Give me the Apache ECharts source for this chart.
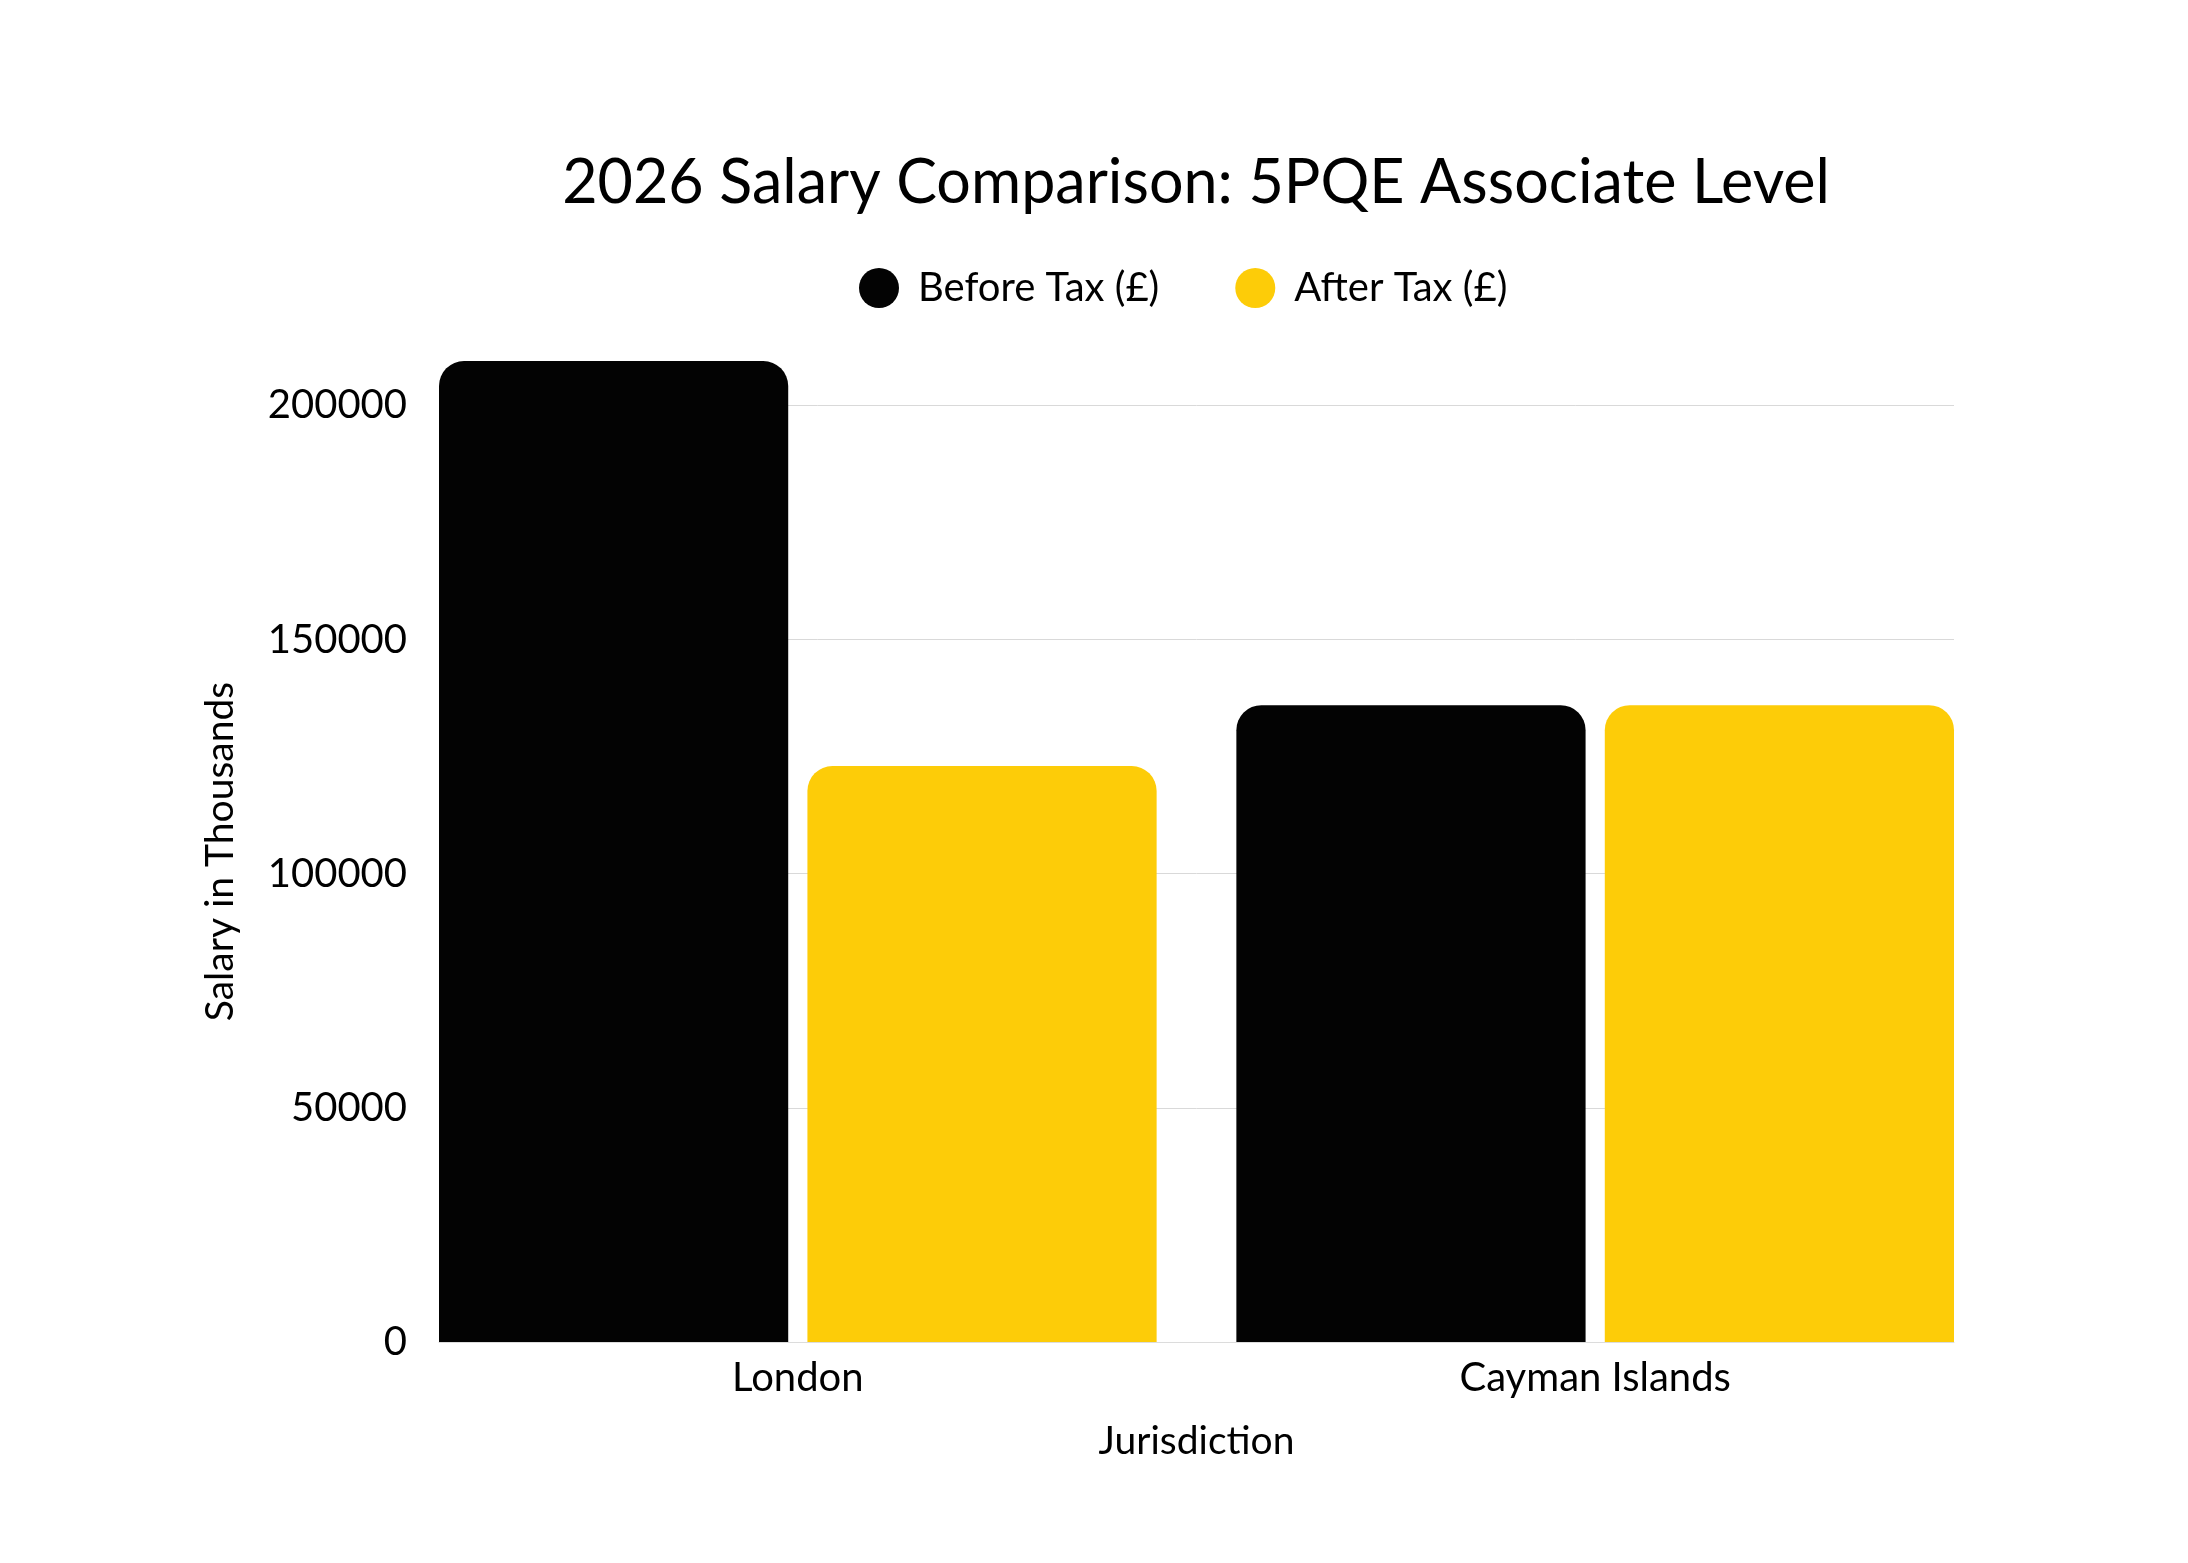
<!DOCTYPE html>
<html>
<head>
<meta charset="utf-8">
<script src="https://cdn.jsdelivr.net/npm/echarts@6/dist/echarts.min.js"></script>
<style>
  html, body { margin: 0; padding: 0; background: #fff; }
  #chart { width: 2188px; height: 1563px; }
</style>
</head>
<body>
<div id="chart"></div>
<script>
var jurisdictions = ['London', 'Cayman Islands'];
var beforeTax = [209500, 136000];
var afterTax = [123000, 136000];
var yTicks = [0, 50000, 100000, 150000, 200000];

var FONT = 'Lato';
var yMax = Math.max.apply(null, beforeTax.concat(afterTax));
var tickTop = yTicks[yTicks.length - 1];

// plot frame (px)
var plotLeft = 439, plotRight = 1954, plotTop = 361, plotBottom = 1342;
var W = 2188, H = 1563;
// grid for the gridlines starts at the top tick
var gridTop0 = plotTop + (plotBottom - plotTop) * (1 - tickTop / yMax);
// bar grid is wider so the outer bars sit flush with the plot edges
var catW = (plotRight - plotLeft) / (2 - 0.1);
var barLeft = plotLeft - catW * 0.05;
var barRight = plotRight + catW * 0.05;

var chart = echarts.init(document.getElementById('chart'));

var option = {
    backgroundColor: '#ffffff',
    textStyle: { fontFamily: FONT },
    title: {
        text: '2026 Salary Comparison: 5PQE Associate Level',
        left: 1191,
        top: 148,
        textAlign: 'center',
        textStyle: { fontFamily: FONT, fontSize: 61, fontWeight: 'normal', color: '#000' }
    },
    legend: {
        left: 859,
        top: 268,
        padding: 0,
        itemWidth: 68,
        itemHeight: 40,
        itemGap: 76,
        icon: 'circle',
        textStyle: { fontFamily: FONT, fontSize: 40, color: '#000' },
        data: ['Before Tax (£)', 'After Tax (£)']
    },
    grid: [
        { left: plotLeft, right: W - plotRight, top: gridTop0, bottom: H - plotBottom },
        { left: barLeft, right: W - barRight, top: plotTop, bottom: H - plotBottom }
    ],
    xAxis: [
        {
            gridIndex: 0,
            type: 'category',
            data: jurisdictions,
            axisLine: { show: true, lineStyle: { color: '#dcdcdc', width: 1 } },
            axisTick: { show: false },
            axisLabel: { show: false }
        },
        {
            gridIndex: 1,
            type: 'category',
            data: jurisdictions,
            axisLine: { show: false },
            axisTick: { show: false },
            axisLabel: { margin: 16, fontFamily: FONT, fontSize: 40, color: '#000' },
            name: 'Jurisdiction',
            nameLocation: 'middle',
            nameGap: 80,
            nameTextStyle: { fontFamily: FONT, fontSize: 39, color: '#000' }
        }
    ],
    yAxis: [
        {
            gridIndex: 0,
            type: 'value',
            min: yTicks[0],
            max: tickTop,
            interval: yTicks[1] - yTicks[0],
            axisLine: { show: false },
            axisTick: { show: false },
            axisLabel: {
                margin: 32, fontFamily: FONT, fontSize: 40, color: '#000',
                formatter: function (v) { return String(v); }
            },
            splitLine: { lineStyle: { color: '#d9d9d9', width: 1 } }
        },
        {
            gridIndex: 1,
            type: 'value',
            min: 0,
            max: yMax,
            axisLine: { show: false },
            axisTick: { show: false },
            axisLabel: { show: false },
            splitLine: { show: false },
            name: 'Salary in Thousands',
            nameLocation: 'middle',
            nameGap: 159,
            nameTextStyle: { fontFamily: FONT, fontSize: 39, color: '#000' }
        }
    ],
    series: [
        {
            name: 'Before Tax (£)',
            type: 'bar',
            xAxisIndex: 1,
            yAxisIndex: 1,
            data: beforeTax,
            barCategoryGap: '10%',
            barGap: '5.5%',
            itemStyle: { color: '#030303', borderRadius: [25, 25, 0, 0] }
        },
        {
            name: 'After Tax (£)',
            type: 'bar',
            xAxisIndex: 1,
            yAxisIndex: 1,
            data: afterTax,
            barCategoryGap: '10%',
            barGap: '5.5%',
            itemStyle: { color: '#fdcc08', borderRadius: [25, 25, 0, 0] }
        }
    ]
};

chart.setOption(option);
</script>
</body>
</html>
